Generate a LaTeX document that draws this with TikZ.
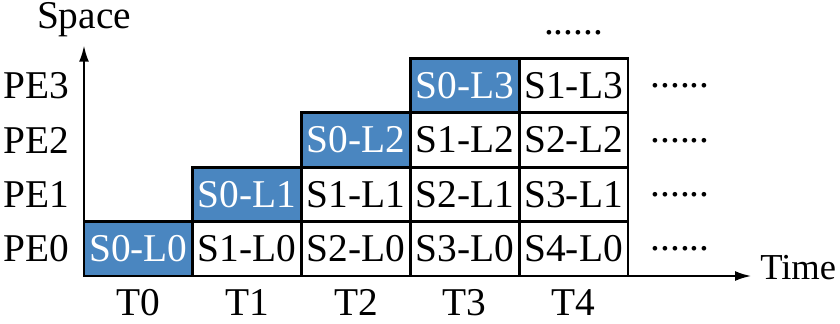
\documentclass[tikz,border=0pt]{standalone}
\usepackage{fontspec}
\setmainfont{Liberation Serif}
\usetikzlibrary{arrows.meta}
\definecolor{peblue}{RGB}{74,134,192}

\begin{document}
\begin{tikzpicture}[x=1cm,y=1cm,font=\fontsize{28}{33}\selectfont,
  cell/.style={draw,line width=2pt,minimum width=2.72cm,minimum height=1.36cm,inner sep=0pt},
  busy/.style={cell,fill=peblue,text=white},
  dots/.style={anchor=base}]
  \useasboundingbox (-2.1,-1.175) rectangle (18.9,6.9);
  \coordinate (O) at (0,0);
  \coordinate (X) at (16.7,0);
  \coordinate (Y) at (0,5.78);
  % first stage on the diagonal
  \node[busy] (s0l0) at (1.36,0.68) {S0-L0};
  \node[busy] (s0l1) at (4.08,2.04) {S0-L1};
  \node[busy] (s0l2) at (6.80,3.40) {S0-L2};
  \node[busy] (s0l3) at (9.52,4.76) {S0-L3};
  % later stages
  \node[cell] (s1l0) at (4.08,0.68) {S1-L0};
  \node[cell] (s2l0) at (6.80,0.68) {S2-L0};
  \node[cell] (s3l0) at (9.52,0.68) {S3-L0};
  \node[cell] (s4l0) at (12.24,0.68) {S4-L0};
  \node[cell] (s1l1) at (6.80,2.04) {S1-L1};
  \node[cell] (s2l1) at (9.52,2.04) {S2-L1};
  \node[cell] (s3l1) at (12.24,2.04) {S3-L1};
  \node[cell] (s1l2) at (9.52,3.40) {S1-L2};
  \node[cell] (s2l2) at (12.24,3.40) {S2-L2};
  \node[cell] (s1l3) at (12.24,4.76) {S1-L3};
  % axes
  \draw[line width=2pt,-{Latex[length=12pt,width=7pt]}] (O) -- (X);
  \draw[line width=2pt,-{Latex[length=12pt,width=7pt]}] (O) -- (Y);
  \node[anchor=base] (space) at (0,6.18) {Space};
  \node[anchor=base west,inner sep=0pt,font=\fontsize{26}{31}\selectfont] (time) at (16.9,-0.08) {Time};
  % processing elements
  \node[anchor=east] (pe0) at (-0.25,0.68) {PE0};
  \node[anchor=east] (pe1) at (-0.25,2.04) {PE1};
  \node[anchor=east] (pe2) at (-0.25,3.40) {PE2};
  \node[anchor=east] (pe3) at (-0.25,4.76) {PE3};
  % time steps
  \node[anchor=base] (t0) at (1.36,-0.975) {T0};
  \node[anchor=base] (t1) at (4.08,-0.975) {T1};
  \node[anchor=base] (t2) at (6.80,-0.975) {T2};
  \node[anchor=base] (t3) at (9.52,-0.975) {T3};
  \node[anchor=base] (t4) at (12.24,-0.975) {T4};
  % continuation
  \node[dots] (d0) at (14.9,0.63) {......};
  \node[dots] (d1) at (14.9,1.99) {......};
  \node[dots] (d2) at (14.9,3.35) {......};
  \node[dots] (d3) at (14.9,4.71) {......};
  \node[dots] (d4) at (12.24,6.05) {......};
\end{tikzpicture}
\end{document}
